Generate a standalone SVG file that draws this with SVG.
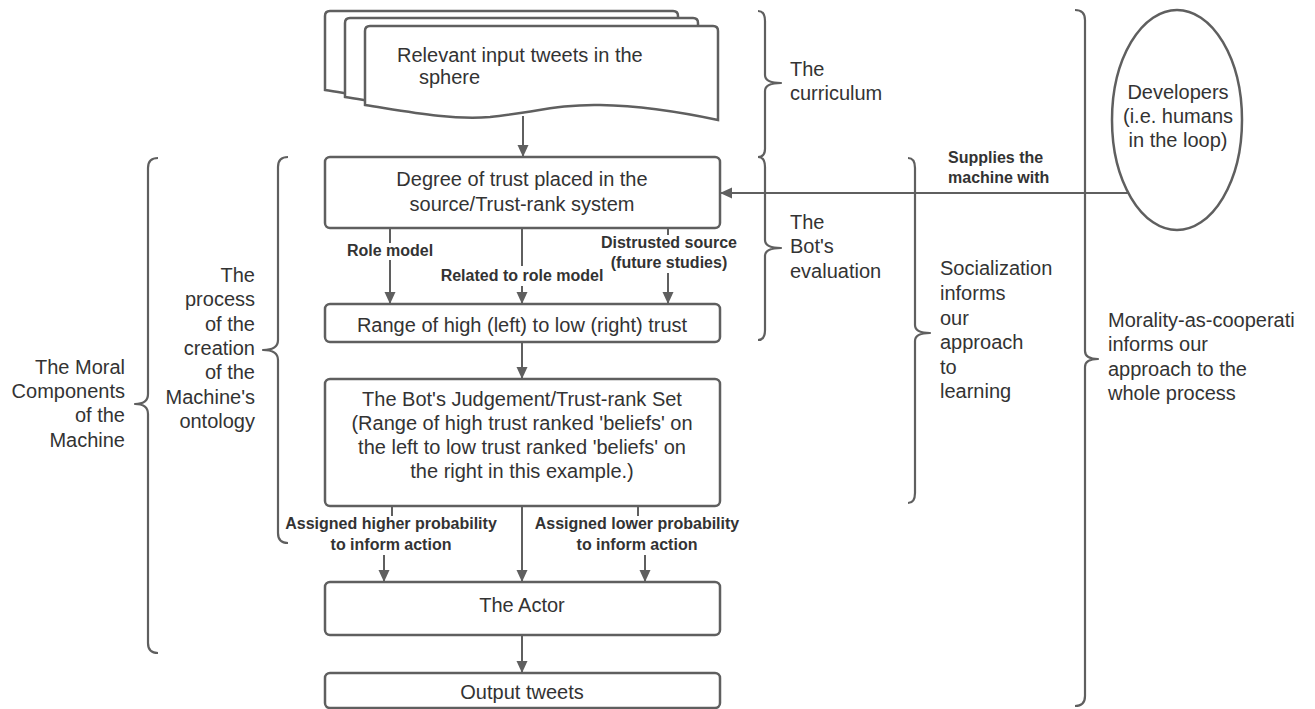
<svg xmlns="http://www.w3.org/2000/svg" width="1315" height="709" viewBox="0 0 1315 709">
<style>
.box{fill:#ffffff;stroke:#5f5f5f;stroke-width:2.5}
.ln{fill:none;stroke:#5f5f5f;stroke-width:2}
.br{fill:none;stroke:#5f5f5f;stroke-width:2.2;stroke-linejoin:round}
.t{font-family:"Liberation Sans",Arial,sans-serif;font-size:20px;fill:#333333}
.c{text-anchor:middle}
.r{text-anchor:end}
.b{font-family:"Liberation Sans",Arial,sans-serif;font-size:16px;font-weight:bold;fill:#333333}
</style>
<defs>
<marker id="ah" viewBox="0 0 12 12" refX="12" refY="6" markerWidth="12" markerHeight="12" markerUnits="userSpaceOnUse" orient="auto">
<path d="M0,0.5 L12,6 L0,11.5 z" fill="#5f5f5f"/>
</marker>
<path id="doc" d="M365,105 L365,31 Q365,26 370,26 L713,26 Q718,26 718,31 L718,120 C690,114 650,106 600,105 C560,104 530,113 490,117 C450,120 410,112 365,105 Z"/>
</defs>

<g id="input-tweets">
<use href="#doc" class="box" transform="translate(-40,-15)"/>
<use href="#doc" class="box" transform="translate(-20,-8)"/>
<use href="#doc" class="box"/>
<text class="t" x="397" y="62">Relevant input tweets in the</text>
<text class="t" x="419" y="84">sphere</text>
</g>

<g id="trust-degree">
<rect class="box" x="325" y="157" width="395" height="71" rx="5"/>
<text class="t c" x="522" y="186">Degree of trust placed in the</text>
<text class="t c" x="522" y="211">source/Trust-rank system</text>
</g>

<g id="trust-range">
<rect class="box" x="325" y="304" width="395" height="38" rx="5"/>
<text class="t c" x="522" y="332">Range of high (left) to low (right) trust</text>
</g>

<g id="judgement">
<rect class="box" x="325" y="379" width="395" height="127" rx="5"/>
<text class="t c" x="522" y="406">The Bot's Judgement/Trust-rank Set</text>
<text class="t c" x="522" y="430">(Range of high trust ranked 'beliefs' on</text>
<text class="t c" x="522" y="454">the left to low trust ranked 'beliefs' on</text>
<text class="t c" x="522" y="478">the right in this example.)</text>
</g>

<g id="actor">
<rect class="box" x="325" y="582" width="395" height="53" rx="5"/>
<text class="t c" x="522" y="612">The Actor</text>
</g>

<g id="output-tweets">
<rect class="box" x="325" y="673" width="395" height="35" rx="5"/>
<text class="t c" x="522" y="699">Output tweets</text>
</g>

<g id="developers">
<ellipse class="box" cx="1177" cy="120" rx="65" ry="110"/>
<text class="t c" x="1178" y="99">Developers</text>
<text class="t c" x="1178" y="123">(i.e. humans</text>
<text class="t c" x="1178" y="147">in the loop)</text>
</g>

<g id="connectors">
<line class="ln" x1="523" y1="116" x2="523" y2="157" marker-end="url(#ah)"/>
<line class="ln" x1="390" y1="228" x2="390" y2="243"/>
<line class="ln" x1="390" y1="260" x2="390" y2="304" marker-end="url(#ah)"/>
<line class="ln" x1="522" y1="228" x2="522" y2="266"/>
<line class="ln" x1="522" y1="286" x2="522" y2="304" marker-end="url(#ah)"/>
<line class="ln" x1="668" y1="228" x2="668" y2="235"/>
<line class="ln" x1="668" y1="273" x2="668" y2="304" marker-end="url(#ah)"/>
<line class="ln" x1="522" y1="342" x2="522" y2="379" marker-end="url(#ah)"/>
<line class="ln" x1="392" y1="506" x2="392" y2="516"/>
<line class="ln" x1="384" y1="555" x2="384" y2="582" marker-end="url(#ah)"/>
<line class="ln" x1="522" y1="506" x2="522" y2="582" marker-end="url(#ah)"/>
<line class="ln" x1="638" y1="506" x2="638" y2="516"/>
<line class="ln" x1="645" y1="555" x2="645" y2="582" marker-end="url(#ah)"/>
<line class="ln" x1="522" y1="635" x2="522" y2="673" marker-end="url(#ah)"/>
<line class="ln" x1="1128" y1="193" x2="720" y2="193" marker-end="url(#ah)"/>
<text class="b c" x="390" y="256">Role model</text>
<text class="b c" x="522" y="281">Related to role model</text>
<text class="b c" x="669" y="248">Distrusted source</text>
<text class="b c" x="669" y="268">(future studies)</text>
<text class="b c" x="391" y="529">Assigned higher probability</text>
<text class="b c" x="391" y="550">to inform action</text>
<text class="b c" x="637" y="529">Assigned lower probability</text>
<text class="b c" x="637" y="550">to inform action</text>
<text class="b" x="948" y="163">Supplies the</text>
<text class="b" x="948" y="183">machine with</text>
</g>

<g id="brace-moral">
<path class="br" d="M158,158 Q148,158 148,168 L148,394 Q148,404 135,404 Q148,404 148,414 L148,643 Q148,653 158,653"/>
<text class="t r" x="125" y="374">The Moral</text>
<text class="t r" x="125" y="398">Components</text>
<text class="t r" x="125" y="422">of the</text>
<text class="t r" x="125" y="447">Machine</text>
</g>

<g id="brace-ontology">
<path class="br" d="M288,157 Q278,157 278,167 L278,340 Q278,350 263,350 Q278,350 278,360 L278,533 Q278,543 288,543"/>
<text class="t r" x="255" y="282">The</text>
<text class="t r" x="255" y="306">process</text>
<text class="t r" x="255" y="331">of the</text>
<text class="t r" x="255" y="355">creation</text>
<text class="t r" x="255" y="379">of the</text>
<text class="t r" x="255" y="404">Machine's</text>
<text class="t r" x="255" y="428">ontology</text>
</g>

<g id="brace-curriculum">
<path class="br" d="M758,11 Q765,11 765,21 L765,75 Q765,83 781,83 Q765,83 765,91 L765,149 Q765,157 758,157"/>
<text class="t" x="790" y="76">The</text>
<text class="t" x="790" y="100">curriculum</text>
</g>

<g id="brace-evaluation">
<path class="br" d="M758,157 Q765,157 765,167 L765,240 Q765,248 781,248 Q765,248 765,256 L765,330 Q765,340 758,340"/>
<text class="t" x="790" y="229">The</text>
<text class="t" x="790" y="253">Bot's</text>
<text class="t" x="790" y="278">evaluation</text>
</g>

<g id="brace-socialization">
<path class="br" d="M908,158 Q915,158 915,168 L915,325 Q915,333 930,333 Q915,333 915,341 L915,493 Q915,503 908,503"/>
<text class="t" x="940" y="275">Socialization</text>
<text class="t" x="940" y="300">informs</text>
<text class="t" x="940" y="325">our</text>
<text class="t" x="940" y="349">approach</text>
<text class="t" x="940" y="374">to</text>
<text class="t" x="940" y="398">learning</text>
</g>

<g id="brace-morality">
<path class="br" d="M1075,10 Q1085,10 1085,20 L1085,351 Q1085,359 1098,359 Q1085,359 1085,367 L1085,696 Q1085,706 1075,706"/>
<text class="t" x="1108" y="327">Morality-as-cooperati</text>
<text class="t" x="1108" y="351">informs our</text>
<text class="t" x="1108" y="376">approach to the</text>
<text class="t" x="1108" y="400">whole process</text>
</g>
</svg>
